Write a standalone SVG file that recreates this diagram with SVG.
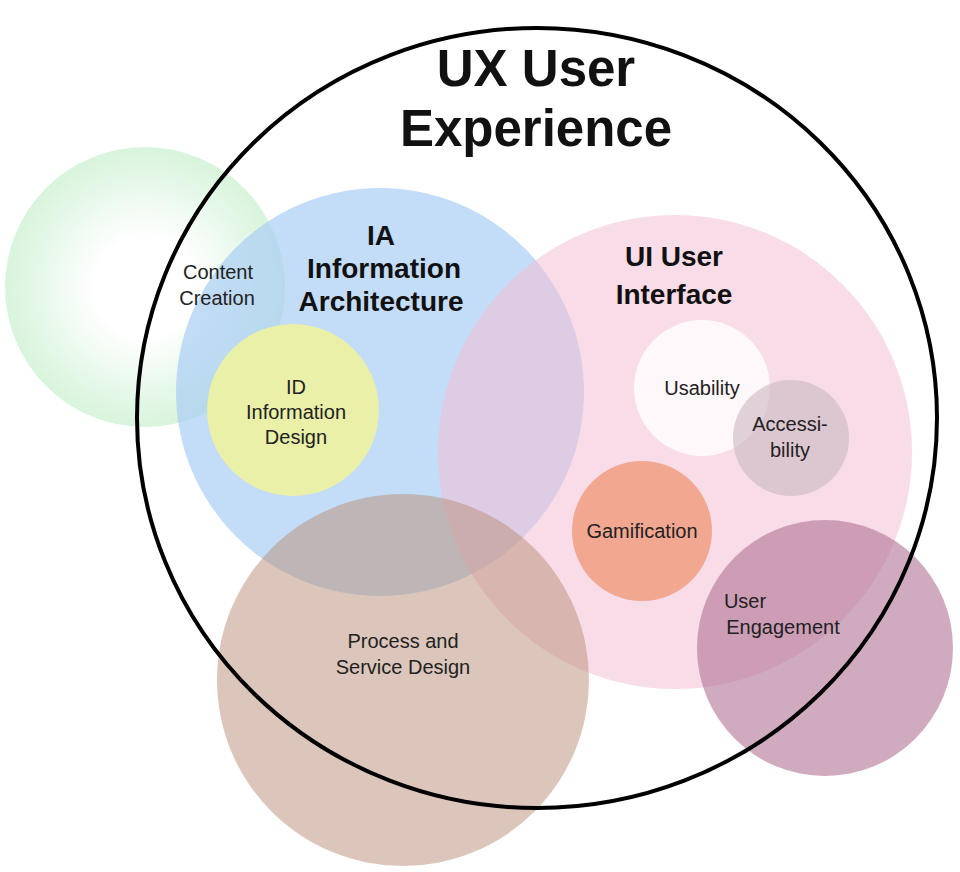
<svg xmlns="http://www.w3.org/2000/svg" width="960" height="872" viewBox="0 0 960 872">
<defs>
<radialGradient id="g" cx="0.5" cy="0.5" r="0.5"><stop offset="0.35" stop-color="#ffffff"/><stop offset="1" stop-color="#d3f3d8"/></radialGradient>
<style>
text{font-family:"Liberation Sans",Arial,sans-serif;fill:#222;text-anchor:middle}
.b{font-weight:bold;font-size:28px;fill:#111}
.s{font-size:20px}
</style>
</defs>
<rect width="960" height="872" fill="#fff"/>
<g id="content"><circle cx="145" cy="287" r="140" fill="url(#g)" opacity="0.9"/></g>
<g id="ia"><circle cx="380" cy="392" r="204" fill="#a9cdf3" opacity="0.7"/></g>
<g id="ui"><circle cx="675" cy="452" r="237" fill="#f3bfd6" opacity="0.55"/></g>
<g id="id"><circle cx="293" cy="410" r="86" fill="#f1f39a" opacity="0.85"/></g>
<g id="process"><circle cx="403" cy="680" r="186" fill="#b98d78" opacity="0.5"/></g>
<g id="engage"><circle cx="825" cy="648" r="128" fill="#b07394" opacity="0.6"/></g>
<g id="usab"><circle cx="702" cy="388" r="68" fill="#fff" opacity="0.8"/></g>
<g id="access"><circle cx="791" cy="438" r="58" fill="#c9b7bf" opacity="0.6"/></g>
<g id="gam"><circle cx="642" cy="531" r="70" fill="#f09a7a" opacity="0.8"/></g>
<g id="ux"><ellipse cx="537" cy="418" rx="400" ry="390" fill="none" stroke="#000" stroke-width="4"/></g>
<g id="labels">
<text x="536" y="86" style="font-weight:bold;font-size:51px;fill:#111">UX User</text>
<text x="536" y="146" style="font-weight:bold;font-size:51px;fill:#111">Experience</text>
<text class="b" x="381" y="245">IA</text>
<text class="b" x="384" y="278">Information</text>
<text class="b" x="381" y="311">Architecture</text>
<text class="b" x="674" y="266">UI User</text>
<text class="b" x="674" y="304">Interface</text>
<text class="s" x="218" y="279">Content</text>
<text class="s" x="217" y="305">Creation</text>
<text class="s" x="296" y="394">ID</text>
<text class="s" x="296" y="419">Information</text>
<text class="s" x="296" y="444">Design</text>
<text class="s" x="702" y="395">Usability</text>
<text class="s" x="790" y="431">Accessi-</text>
<text class="s" x="790" y="457">bility</text>
<text class="s" x="642" y="538">Gamification</text>
<text class="s" x="403" y="648">Process and</text>
<text class="s" x="403" y="674">Service Design</text>
<text class="s" x="745" y="608">User</text>
<text class="s" x="783" y="634">Engagement</text>
</g>
</svg>
